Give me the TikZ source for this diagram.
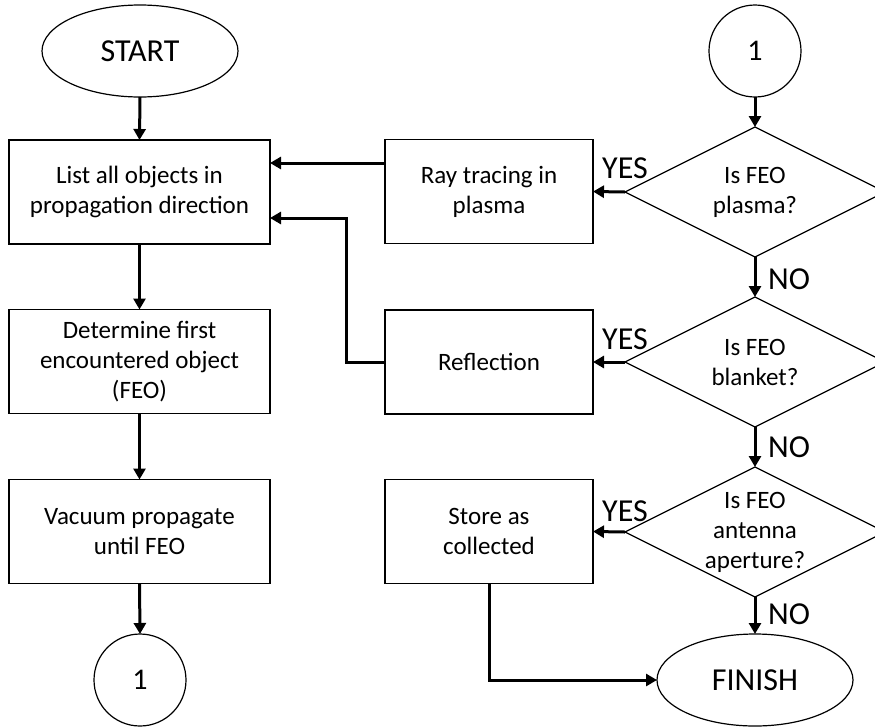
\documentclass[tikz,border=0pt]{standalone}
\usepackage{fontspec}
\setmainfont{Carlito}[Numbers=Lining]
\usetikzlibrary{shapes.geometric,arrows.meta,calc}
\newcommand{\onefont}{\fontsize{30}{34}\selectfont}
\begin{document}
\begin{tikzpicture}[x=1pt,y=-1pt,
  box/.style={draw,line width=1.2pt,rectangle,inner sep=0pt,outer sep=0pt,align=center,
    font=\fontsize{25}{30}\selectfont},
  lbox/.style={box,minimum width=261pt,minimum height=104pt},
  rbox/.style={box,minimum width=208pt,minimum height=104pt},
  dec/.style={draw,line width=1.2pt,diamond,inner sep=0pt,outer sep=0pt,minimum width=260pt,minimum height=130pt},
  dtext/.style={align=center,font=\fontsize{25}{30}\selectfont,inner sep=0pt},
  term/.style={draw,line width=1.2pt,ellipse,inner sep=0pt,outer sep=0pt,minimum width=196pt,minimum height=92pt,font=\fontsize{32}{36}\selectfont},
  conn/.style={draw,line width=1.2pt,circle,inner sep=0pt,outer sep=0pt,minimum size=92pt},
  arr/.style={line width=3pt,-{Triangle[length=11pt,width=12pt]}},
  yn/.style={font=\fontsize{32}{36}\selectfont,inner sep=0pt}
]
\useasboundingbox (0,0) rectangle (875,726);
\begin{scope}
\clip (0,0) rectangle (875,726);
\node[term] (start) at (140,51) {START};
\node[lbox] (b1) at (139.5,192) {List all objects in\\propagation direction};
\node[lbox] (b2) at (139.5,361.5) {Determine first\\encountered object\\(FEO)};
\node[lbox] (b3) at (139.5,531.5) {Vacuum propagate\\until FEO};
\node[conn] (c2) at (140,680) {\onefont 1};

\node[conn] (c1) at (755,51) {\onefont 1};
\node[dec] (d1) at (755,192) {};
\node[dtext] at (d1.center) {Is FEO\\plasma?};
\node[dec] (d2) at (755,362) {};
\node[dtext] at (d2.center) {Is FEO\\blanket?};
\node[dec] (d3) at (755,532) {};
\node[dtext] at (d3.center) {Is FEO\\antenna\\aperture?};
\node[term] (fin) at (755,680) {FINISH};

\node[rbox] (ray) at (489,191.5) {Ray tracing in\\plasma};
\node[rbox] (refl) at (489,362) {Reflection};
\node[rbox] (store) at (489,531.5) {Store as\\collected};
\end{scope}

\coordinate (ya) at (0,163);
\coordinate (yb) at (0,218);

\draw[arr] (start.south) -- (b1.north);
\draw[arr] (b1.south) -- (b2.north);
\draw[arr] (b2.south) -- (b3.north);
\draw[arr] (b3.south) -- (c2.north);

\draw[arr] (c1.south) -- (d1.north);
\draw[arr] (d1.west) -- (ray.east);
\draw[arr] (d1.south) -- (d2.north);
\draw[arr] (d2.west) -- (refl.east);
\draw[arr] (d2.south) -- (d3.north);
\draw[arr] (d3.west) -- (store.east);
\draw[arr] (d3.south) -- (fin.north);

\draw[arr] (ray.west |- ya) -- (b1.east |- ya);
\draw[arr] (refl.west) -- ++(-39,0) |- (b1.east |- yb);
\draw[arr] (store.south) |- (fin.west);

\node[yn] at (625,168) {YES};
\node[yn] at (625,339) {YES};
\node[yn] at (625,511) {YES};
\node[yn] at (789,279) {NO};
\node[yn] at (789,447) {NO};
\node[yn] at (789,614) {NO};
\end{tikzpicture}
\end{document}
